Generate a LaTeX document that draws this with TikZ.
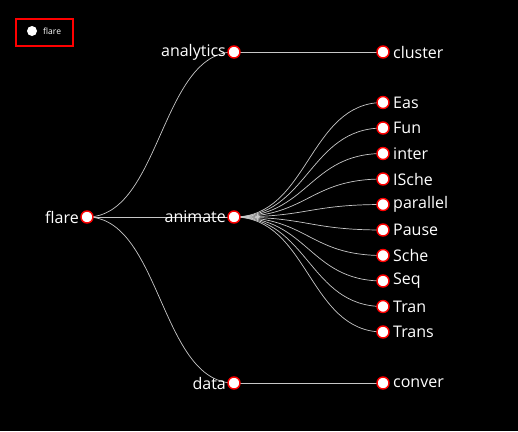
\documentclass[tikz,border=0pt]{standalone}
\usepackage{fontspec}
\setmainfont{Open Sans}
\usetikzlibrary{calc}
\begin{document}
\begin{tikzpicture}[x=1pt,y=-1pt,
  dot/.style={circle,draw=red,fill=white,line width=1.4pt,minimum size=12pt,inner sep=0pt},
  edge/.style={draw=black!22,line width=0.7pt},
  lbl/.style={text=white,font=\fontsize{16}{17}\selectfont,inner sep=0pt},
  legendbox/.style={draw=red,line width=2pt}]
\fill[black] (0,0) rectangle (518,431);
\useasboundingbox (0,0) rectangle (518,431);
\newcommand\treeedge[2]{\draw[edge] let \p1=(#1), \p2=(#2) in (\p1) .. controls ({0.5*\x1+0.5*\x2},\y1) and ({0.5*\x1+0.5*\x2},\y2) .. (\p2);}
% node positions
\coordinate (flare) at (87,217);
\coordinate (analytics) at (234,52);
\coordinate (animate) at (234,217);
\coordinate (data) at (234,383);
\coordinate (cluster) at (383,52);
\coordinate (Eas) at (383,102.5);
\coordinate (Fun) at (383,128);
\coordinate (inter) at (383,153.5);
\coordinate (ISche) at (383,179);
\coordinate (parallel) at (383,204.5);
\coordinate (Pause) at (383,230);
\coordinate (Sche) at (383,255.5);
\coordinate (Seq) at (383,281);
\coordinate (Tran) at (383,306.5);
\coordinate (Trans) at (383,332);
\coordinate (conver) at (383,383);
% edges
\treeedge{flare}{analytics}
\treeedge{flare}{animate}
\treeedge{flare}{data}
\treeedge{analytics}{cluster}
\foreach \leaf in {Eas,Fun,inter,ISche,parallel,Pause,Sche,Seq,Tran,Trans}{\treeedge{animate}{\leaf}}
\treeedge{data}{conver}
% labels of inner nodes
\node[lbl,anchor=east] (tflare) at ($(flare)+(-8,0)$) {flare};
\node[lbl,anchor=east] (tanalytics) at ($(analytics)+(-8,0)$) {analytics};
\node[lbl,anchor=east] (tanimate) at ($(animate)+(-8,0)$) {animate};
\node[lbl,anchor=east] (tdata) at ($(data)+(-8,0)$) {data};
% dots
\foreach \leaf in {flare,analytics,animate,data,cluster,Eas,Fun,inter,ISche,parallel,Pause,Sche,Seq,Tran,Trans,conver}{\node[dot] (d\leaf) at (\leaf) {};}
% leaf labels
\foreach \leaf in {cluster,Eas,Fun,inter,ISche,parallel,Pause,Sche,Seq,Tran,Trans,conver}{\node[lbl,anchor=west] (t\leaf) at ($(\leaf)+(10,0)$) {\leaf};}
% legend
\draw[legendbox] (16,19) rectangle (73,46);
\node[circle,fill=white,minimum size=10pt,inner sep=0pt] (legdot) at (32,31) {};
\node[text=white,font=\fontsize{8.5}{9}\selectfont,anchor=west,inner sep=0pt] (legtxt) at (43,31) {flare};
\end{tikzpicture}
\end{document}
